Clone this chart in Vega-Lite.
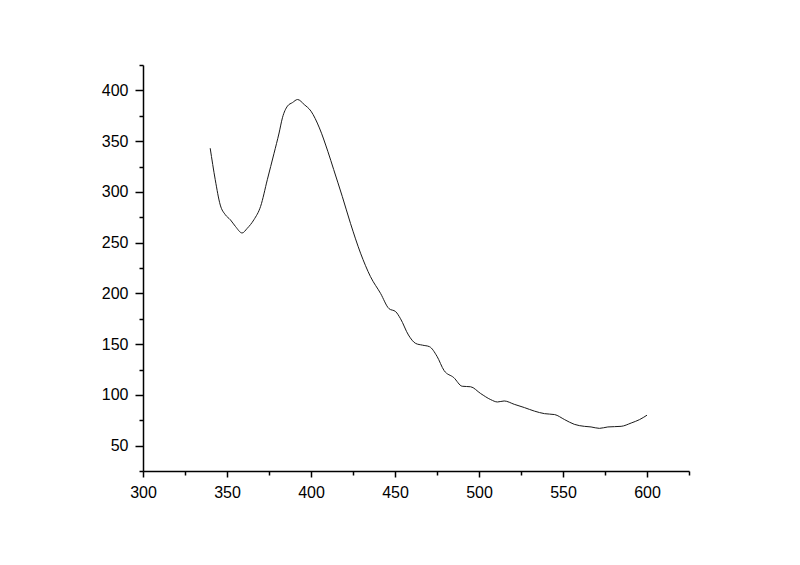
{
  "$schema": "https://vega.github.io/schema/vega-lite/v6.json",
  "width": 546,
  "height": 406,
  "autosize": {"type": "none"},
  "padding": {"left": 143, "top": 65, "right": 111, "bottom": 94},
  "background": "white",
  "config": {"view": {"stroke": null}},
  "data": {"values": [
    {"x": 340, "y": 343}, {"x": 343, "y": 312}, {"x": 346, "y": 287}, {"x": 349, "y": 277.5},
    {"x": 352, "y": 272.5}, {"x": 355, "y": 266}, {"x": 359, "y": 259.5}, {"x": 362, "y": 264},
    {"x": 366, "y": 272.5}, {"x": 370, "y": 285.7}, {"x": 374, "y": 312}, {"x": 378, "y": 338},
    {"x": 381, "y": 358}, {"x": 383, "y": 373}, {"x": 386, "y": 384.5}, {"x": 389, "y": 388},
    {"x": 392, "y": 391}, {"x": 396, "y": 386}, {"x": 400, "y": 379.5}, {"x": 405, "y": 363},
    {"x": 410, "y": 340}, {"x": 413.5, "y": 322}, {"x": 418.6, "y": 295.6}, {"x": 423.5, "y": 269},
    {"x": 429.5, "y": 239.6}, {"x": 435.4, "y": 216.5}, {"x": 441.4, "y": 200}, {"x": 446.4, "y": 185},
    {"x": 450.4, "y": 182}, {"x": 453.3, "y": 175}, {"x": 458, "y": 159}, {"x": 462.3, "y": 150.7},
    {"x": 466.3, "y": 149}, {"x": 470.5, "y": 147.5}, {"x": 475, "y": 138}, {"x": 479.2, "y": 124},
    {"x": 485, "y": 117}, {"x": 490, "y": 108.5}, {"x": 495, "y": 108}, {"x": 501, "y": 101.3},
    {"x": 507, "y": 95.3}, {"x": 511, "y": 93}, {"x": 515, "y": 94}, {"x": 521, "y": 90.7},
    {"x": 527, "y": 87.5}, {"x": 533, "y": 84}, {"x": 539, "y": 81.5}, {"x": 545, "y": 80.6},
    {"x": 551, "y": 75.6}, {"x": 556.7, "y": 71}, {"x": 562.7, "y": 69}, {"x": 566.7, "y": 68.4},
    {"x": 571.7, "y": 67}, {"x": 576.7, "y": 68.4}, {"x": 584.6, "y": 69}, {"x": 590.6, "y": 72.3},
    {"x": 595.5, "y": 75.6}, {"x": 600, "y": 80}
  ]},
  "mark": {"type": "line", "stroke": "#1a1a1a", "strokeWidth": 1, "interpolate": "monotone"},
  "encoding": {
    "x": {
      "field": "x", "type": "quantitative",
      "scale": {"domain": [300, 625], "nice": false, "zero": false},
      "axis": {
        "title": null, "grid": false,
        "values": [300, 325, 350, 375, 400, 425, 450, 475, 500, 525, 550, 575, 600, 625],
        "labelExpr": "datum.value % 50 === 0 ? datum.label : ''",
        "tickSize": {"condition": {"test": "datum.value % 50 === 0", "value": 6}, "value": 4},
        "labelPadding": 7,
        "domainColor": "black", "domainWidth": 1.5,
        "tickColor": "black", "tickWidth": 1.5,
        "labelFont": "Liberation Sans", "labelFontSize": 16, "labelColor": "black",
        "labelFlush": false, "labelOverlap": false
      }
    },
    "y": {
      "field": "y", "type": "quantitative",
      "scale": {"domain": [25, 425], "nice": false, "zero": false},
      "axis": {
        "title": null, "grid": false,
        "values": [25, 50, 75, 100, 125, 150, 175, 200, 225, 250, 275, 300, 325, 350, 375, 400, 425],
        "labelExpr": "datum.value % 50 === 0 ? datum.label : ''",
        "tickSize": {"condition": {"test": "datum.value % 50 === 0", "value": 8}, "value": 4},
        "labelPadding": 7,
        "domainColor": "black", "domainWidth": 1.5,
        "tickColor": "black", "tickWidth": 1.5,
        "labelFont": "Liberation Sans", "labelFontSize": 16, "labelColor": "black",
        "labelFlush": false, "labelOverlap": false
      }
    }
  }
}
